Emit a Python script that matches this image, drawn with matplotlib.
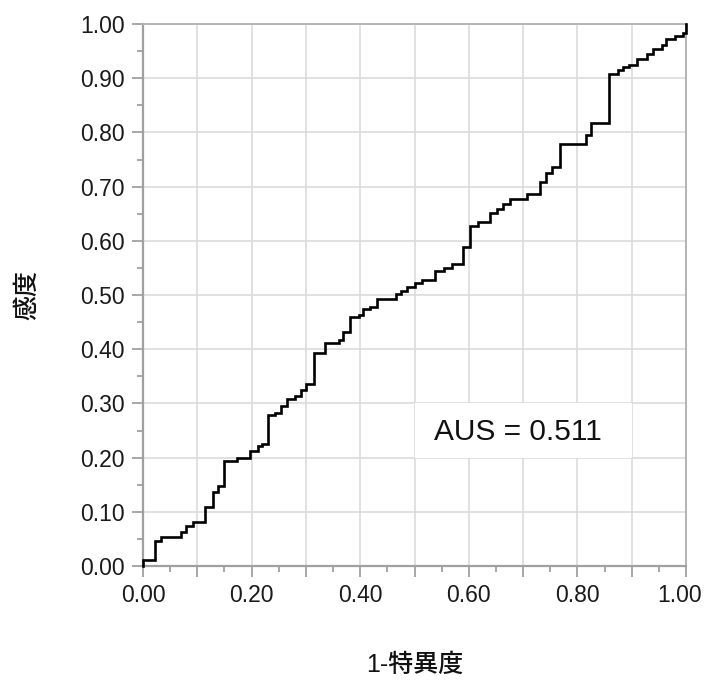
import matplotlib
matplotlib.use("Agg")
import matplotlib.pyplot as plt
import matplotlib.transforms as mtransforms
from matplotlib.ticker import MultipleLocator, FuncFormatter
from matplotlib.patches import Rectangle

plt.rcParams['font.family'] = ['Liberation Sans', 'Noto Sans CJK JP', 'DejaVu Sans']

# ROC step curve: x where the step rises (1 - specificity), y after the rise (sensitivity)
fpr = [0.000, 0.000, 0.023, 0.034, 0.070, 0.079, 0.093, 0.115, 0.128, 0.138,
       0.149, 0.174, 0.197, 0.211, 0.220, 0.230, 0.244, 0.255, 0.265, 0.280,
       0.291, 0.301, 0.315, 0.336, 0.361, 0.369, 0.382, 0.397, 0.406, 0.418,
       0.431, 0.466, 0.476, 0.487, 0.501, 0.514, 0.537, 0.555, 0.569, 0.589,
       0.602, 0.617, 0.639, 0.652, 0.663, 0.675, 0.708, 0.731, 0.743, 0.754,
       0.768, 0.816, 0.825, 0.859, 0.874, 0.884, 0.895, 0.909, 0.929, 0.940,
       0.955, 0.964, 0.980, 0.995, 1.000]
tpr = [0.000, 0.011, 0.046, 0.053, 0.062, 0.073, 0.081, 0.108, 0.137, 0.147,
       0.193, 0.200, 0.213, 0.222, 0.226, 0.278, 0.283, 0.296, 0.309, 0.314,
       0.324, 0.335, 0.393, 0.412, 0.417, 0.431, 0.460, 0.463, 0.474, 0.478,
       0.492, 0.501, 0.508, 0.515, 0.523, 0.528, 0.544, 0.550, 0.558, 0.589,
       0.627, 0.635, 0.651, 0.659, 0.667, 0.678, 0.687, 0.708, 0.725, 0.736,
       0.779, 0.796, 0.817, 0.908, 0.915, 0.921, 0.924, 0.935, 0.944, 0.953,
       0.962, 0.972, 0.978, 0.983, 1.000]

auc_text = "AUS = 0.511"
x_label = "1-特異度"
y_label = "感度"

fig = plt.figure(figsize=(7.05, 6.84), dpi=100)
ax = fig.add_axes([143/705, (684-566)/684, (686-143)/705, (566-24)/684])

ax.plot(fpr, tpr, drawstyle='steps-post', color='black', lw=1.9, zorder=4,
        solid_joinstyle='miter', clip_on=False)

ax.set_xlim(0, 1)
ax.set_ylim(0, 1)

ax.xaxis.set_major_locator(MultipleLocator(0.1))
ax.xaxis.set_minor_locator(MultipleLocator(0.05))
ax.yaxis.set_major_locator(MultipleLocator(0.1))
ax.yaxis.set_minor_locator(MultipleLocator(0.05))

def xfmt(v, pos):
    k = int(round(v * 10))
    return f"{v:.2f}" if k % 2 == 0 else ""
ax.xaxis.set_major_formatter(FuncFormatter(xfmt))
ax.yaxis.set_major_formatter(FuncFormatter(lambda v, p: f"{v:.2f}"))

ax.grid(True, which='major', color='#dcdcdc', lw=1.2, zorder=1)
ax.set_axisbelow(True)

ax.tick_params(which='major', length=8, width=1.3, color='#a0a0a0',
               labelsize=16.5, labelcolor='#1a1a1a', pad=5)
ax.tick_params(which='minor', length=4, width=1.3, color='#a0a0a0')

for s in ['left', 'bottom']:
    ax.spines[s].set_color('#a0a0a0')
    ax.spines[s].set_linewidth(1.6)
for s in ['top', 'right']:
    ax.spines[s].set_color('#b4b4b4')
    ax.spines[s].set_linewidth(1.4)

# shift the last x tick label left so it stays inside the figure
fig.canvas.draw()
for tick in ax.xaxis.get_major_ticks():
    if abs(tick.get_loc() - 1.0) < 1e-6:
        lbl = tick.label1
        lbl.set_transform(lbl.get_transform() +
                          mtransforms.ScaledTranslation(-6/100, 0, fig.dpi_scale_trans))

# white background behind the annotation
ax.add_patch(Rectangle((0.5, 0.2), 0.4, 0.1, facecolor='white', edgecolor='none', zorder=2))
ax.text(0.691, 0.247, auc_text, fontsize=21.5, color='#111111', ha='center', va='center', zorder=5)

fig.text(414.5/705, 1 - 665/684, x_label, fontsize=18, ha='center', va='center',
         color='#111111', fontweight='medium')
fig.text(27/705, 1 - 295/684, y_label, fontsize=18, ha='center', va='center', rotation=90,
         color='#111111', fontweight='medium')

fig.savefig("out.png", dpi=100)
